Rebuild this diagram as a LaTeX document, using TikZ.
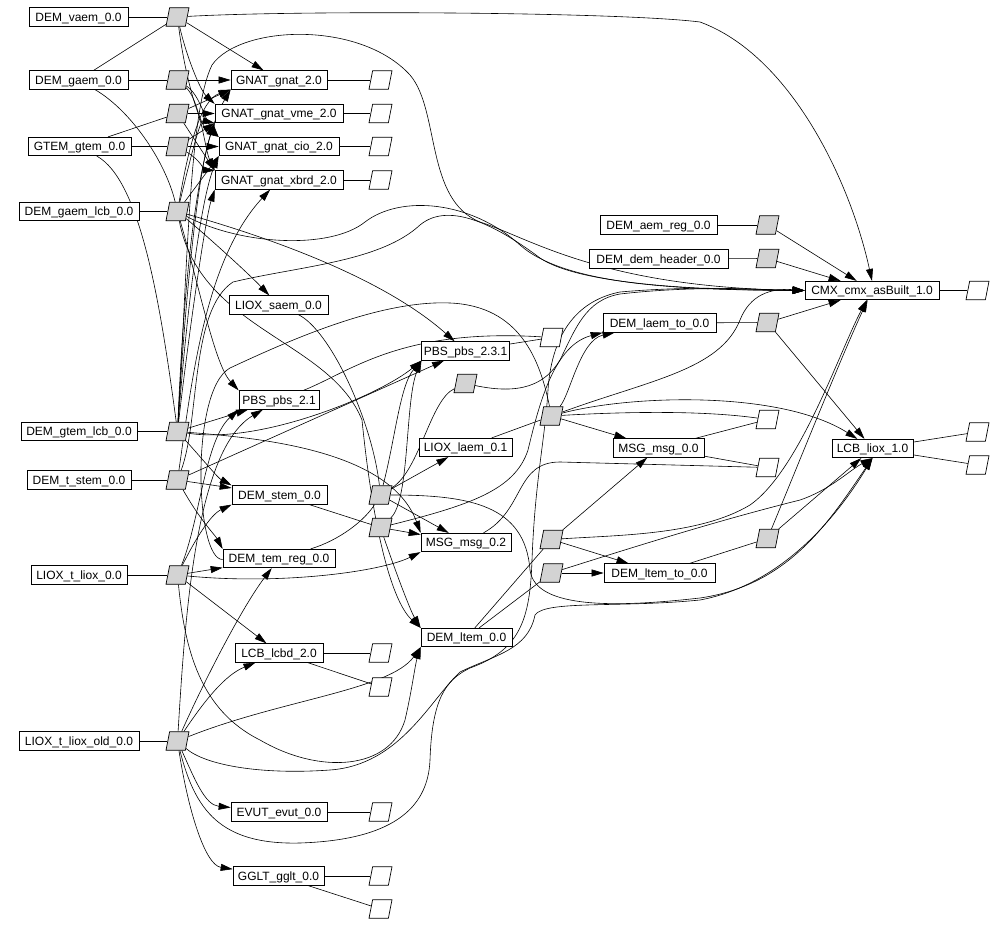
\documentclass[tikz,border=0pt]{standalone}
\usepackage{fontspec}
\setmainfont{Liberation Sans}
\usetikzlibrary{shapes.geometric,arrows.meta}
\definecolor{lg}{RGB}{211,211,211}
\pgfdeclarelayer{bg}
\pgfdeclarelayer{paper}
\pgfsetlayers{paper,bg,main}
\begin{document}
\begin{tikzpicture}[x=1pt,y=-1pt,
  box/.style={draw, fill=white, rectangle, minimum height=18.5pt, inner xsep=2pt, inner ysep=0pt, text height=8.4pt, text depth=0pt, line width=0.7pt, font=\fontsize{12}{13}\selectfont},
  para/.style={draw, trapezium, trapezium left angle=77, trapezium right angle=103, trapezium stretches=true, minimum width=23pt, minimum height=18.5pt, inner sep=1pt, line width=0.7pt},
  gp/.style={para, fill=lg},
  wp/.style={para, fill=white},
  e/.style={line width=0.6pt},
  ar/.style={e, -{Triangle[length=12pt,width=7pt]}}
]
\useasboundingbox (0,0) rectangle (1007,925);
\begin{pgfonlayer}{paper}
\fill[white] (0,0) rectangle (1007,925);
\end{pgfonlayer}

% sources
\node[box, minimum width=99pt]  (sV)  at (78.5,17)    {DEM\_vaem\_0.0};
\node[box, minimum width=99pt]  (sG)  at (78.5,80)    {DEM\_gaem\_0.0};
\node[box, minimum width=103pt] (sT)  at (79.5,146.5) {GTEM\_gtem\_0.0};
\node[box, minimum width=120pt] (sGL) at (79,211.5)   {DEM\_gaem\_lcb\_0.0};
\node[box, minimum width=116pt] (sTL) at (79,431.5)   {DEM\_gtem\_lcb\_0.0};
\node[box, minimum width=104pt] (sTS) at (79,480)     {DEM\_t\_stem\_0.0};
\node[box, minimum width=96pt]  (sL)  at (79,575)     {LIOX\_t\_liox\_0.0};
\node[box, minimum width=120pt] (sLO) at (79,741)     {LIOX\_t\_liox\_old\_0.0};

% gray column A
\node[gp] (a1) at (177.5,17) {};
\node[gp] (a2) at (177.5,80) {};
\node[gp] (a3) at (177.5,113.5) {};
\node[gp] (a4) at (177.5,146.5) {};
\node[gp] (a5) at (177.5,211.5) {};
\node[gp] (a6) at (177.5,431.5) {};
\node[gp] (a7) at (177.5,480) {};
\node[gp] (a8) at (177.5,575) {};
\node[gp] (a9) at (177.5,741) {};

% targets B
\node[box, minimum width=96pt]  (gnat)   at (279,80)    {GNAT\_gnat\_2.0};
\node[box, minimum width=128pt] (vme)    at (279,113.5) {GNAT\_gnat\_vme\_2.0};
\node[box, minimum width=120pt] (cio)    at (279,146.5) {GNAT\_gnat\_cio\_2.0};
\node[box, minimum width=128pt] (xbrd)   at (279,180)   {GNAT\_gnat\_xbrd\_2.0};
\node[box, minimum width=99pt]  (saem)   at (278.5,305) {LIOX\_saem\_0.0};
\node[box, minimum width=80pt]  (pbs21)  at (279,400)   {PBS\_pbs\_2.1};
\node[box, minimum width=95pt]  (stem)   at (279.5,495) {DEM\_stem\_0.0};
\node[box, minimum width=112pt] (temreg) at (279,558.5) {DEM\_tem\_reg\_0.0};
\node[box, minimum width=88pt]  (lcbd)   at (279,653)   {LCB\_lcbd\_2.0};
\node[box, minimum width=96pt]  (evut)   at (279,812)   {EVUT\_evut\_0.0};
\node[box, minimum width=91pt]  (gglt)   at (278.5,876) {GGLT\_gglt\_0.0};

% column C
\node[wp] (wc1) at (380.5,80) {};
\node[wp] (wc2) at (380.5,113.5) {};
\node[wp] (wc3) at (380.5,146.5) {};
\node[wp] (wc4) at (380.5,180) {};
\node[wp] (wc5) at (380.5,653) {};
\node[wp] (wc6) at (380.5,687) {};
\node[wp] (wc7) at (380.5,812) {};
\node[wp] (wc8) at (380.5,876) {};
\node[wp] (wc9) at (380.5,909) {};
\node[gp] (c1) at (380.5,495) {};
\node[gp] (c2) at (380.5,527.5) {};

% column D
\node[box, minimum width=87pt] (pbs231) at (465.5,351)   {PBS\_pbs\_2.3.1};
\node[gp] (d1) at (465.5,383.5) {};
\node[box, minimum width=93pt] (laem)   at (465.5,447.5) {LIOX\_laem\_0.1};
\node[box, minimum width=90pt] (msg02)  at (466,542.5)   {MSG\_msg\_0.2};
\node[box, minimum width=91pt] (ltem)   at (466.5,637.5) {DEM\_ltem\_0.0};
\node[wp] (wd) at (551.5,337.5) {};

% column E
\node[gp] (e1) at (551.5,416) {};
\node[gp] (e2) at (551.5,539.5) {};
\node[gp] (e3) at (551.5,573) {};

% column F
\node[box, minimum width=117pt] (aemreg)    at (658.5,225) {DEM\_aem\_reg\_0.0};
\node[box, minimum width=139pt] (demheader) at (658.5,259) {DEM\_dem\_header\_0.0};
\node[box, minimum width=113pt] (laemto)    at (659.5,323) {DEM\_laem\_to\_0.0};
\node[box, minimum width=91pt]  (msg00)     at (658.5,448) {MSG\_msg\_0.0};
\node[box, minimum width=111pt] (ltemto)    at (659.5,573) {DEM\_ltem\_to\_0.0};

% column G
\node[gp] (g1) at (767.5,225) {};
\node[gp] (g2) at (767.5,258.5) {};
\node[gp] (g3) at (767.5,322.5) {};
\node[gp] (g4) at (767.5,538.5) {};
\node[wp] (wg1) at (767.5,419.5) {};
\node[wp] (wg2) at (767.5,467.5) {};

% column H
\node[box, minimum width=134pt] (cmx)  at (872,290.5)   {CMX\_cmx\_asBuilt\_1.0};
\node[box, minimum width=81pt]  (lcbl) at (872.5,448.5) {LCB\_liox\_1.0};

% column I
\node[wp] (wi1) at (977.5,290.5) {};
\node[wp] (wi2) at (977.5,432) {};
\node[wp] (wi3) at (977.5,465) {};

\begin{pgfonlayer}{bg}
% inputs
\draw[e] (sV) -- (a1);
\draw[e] (sG) -- (a1);
\draw[e] (sG) -- (a2);
\draw[e] (sT) -- (a3);
\draw[e] (sT) -- (a4);
\draw[e] (sGL) -- (a5);
\draw[e] (sG) .. controls (130,110) and (165,160) .. (a5);
\draw[e] (sT) .. controls (140,180) and (160,300) .. (a6);
\draw[e] (sTL) -- (a6);
\draw[e] (sTS) -- (a7);
\draw[e] (sL) -- (a8);
\draw[e] (sLO) -- (a9);
\draw[e] (aemreg) -- (g1);
\draw[e] (demheader) -- (g2);
\draw[e] (laemto) -- (g3);
\draw[e] (ltemto) -- (g4);
\draw[e] (laem) -- (e1);
\draw[e] (ltem) -- (e2);
\draw[e] (ltem) -- (e3);
\draw[e] (stem) -- (c2);
\draw[e] (saem) .. controls (330,330) and (372,420) .. (c1);
\draw[e] (temreg) .. controls (340,540) and (365,520) .. (c1);
\draw[e] (temreg) .. controls (195,560) and (190,390) .. (230,368) .. controls (290,340) and (380,300) .. (450,303) .. controls (520,306) and (540,360) .. (e1);
\draw[e] (c1) .. controls (420,470) and (430,400) .. (d1);

% outputs to white
\draw[e] (gnat) -- (wc1);
\draw[e] (vme) -- (wc2);
\draw[e] (cio) -- (wc3);
\draw[e] (xbrd) -- (wc4);
\draw[e] (lcbd) -- (wc5);
\draw[e] (lcbd) -- (wc6);
\draw[e] (evut) -- (wc7);
\draw[e] (gglt) -- (wc8);
\draw[e] (gglt) -- (wc9);
\draw[e] (pbs231) -- (wd);
\draw[e] (pbs21) .. controls (350,372) and (400,328) .. (wd);
\draw[e] (msg00) -- (wg1);
\draw[e] (msg00) -- (wg2);
\draw[e] (cmx) -- (wi1);
\draw[e] (lcbl) -- (wi2);
\draw[e] (lcbl) -- (wi3);
\draw[e] (msg02) .. controls (525,510) and (515,462) .. (560,462) -- (wg2);
\draw[e] (e1) .. controls (620,412) and (700,410) .. (wg1);

% GNAT cluster
\draw[ar] (a1) -- (gnat);
\draw[ar] (a1) .. controls (186,55) and (200,90) .. (vme.north west);
\draw[ar] (a1) .. controls (184,70) and (198,125) .. (cio.north west);
\draw[ar] (a2) -- (gnat);
\draw[ar] (a2) .. controls (200,95) and (205,120) .. (cio.north west);
\draw[ar] (a2) .. controls (200,100) and (205,150) .. (xbrd.north west);
\draw[ar] (a3) -- (vme);
\draw[ar] (a3) -- (gnat.south west);
\draw[ar] (a3) -- (xbrd.north west);
\draw[ar] (a4) -- (cio);
\draw[ar] (a4) -- (vme.south west);
\draw[ar] (a4) .. controls (200,160) and (205,170) .. (xbrd.north west);
\draw[ar] (a5) -- (cio.south west);
\draw[ar] (a5) .. controls (190,160) and (200,120) .. (vme.south west);
\draw[ar] (a5) .. controls (188,150) and (200,100) .. (gnat.south west);
\draw[ar] (a6) .. controls (183,300) and (195,150) .. (gnat.south west);
\draw[ar] (a6) .. controls (185,300) and (198,170) .. (vme.south west);
\draw[ar] (a6) .. controls (186,320) and (200,200) .. (cio.south west);
\draw[ar] (a6) .. controls (188,340) and (205,220) .. (xbrd.south west);
\draw[ar] (a7) .. controls (192,380) and (205,260) .. (xbrd);

% long edges from column A
\draw[ar] (a1) .. controls (300,10) and (620,12) .. (700,22) .. controls (790,55) and (850,180) .. (cmx.north);
\draw[ar] (a5) .. controls (200,230) and (245,270) .. (saem);
\draw[ar] (a5) .. controls (260,235) and (380,275) .. (pbs231);
\draw[ar] (a5) .. controls (200,290) and (215,365) .. (pbs21.north west);
\draw[ar] (a5) .. controls (240,245) and (330,250) .. (365,222) .. controls (400,195) and (470,200) .. (520,245) .. controls (565,285) and (680,290) .. (cmx.west);
\draw[ar] (a5) .. controls (200,330) and (330,340) .. (362,420) .. controls (372,520) and (390,600) .. (ltem.north west);
\draw[ar] (a6) .. controls (188,250) and (190,110) .. (212,65) .. controls (240,25) and (360,20) .. (410,75) .. controls (440,110) and (425,200) .. (480,222) .. controls (530,238) and (600,287) .. (cmx.west);
\draw[ar] (a6) -- (pbs21);
\draw[ar] (a6) .. controls (205,462) and (218,478) .. (stem.north west);
\draw[ar] (a6) .. controls (260,445) and (380,395) .. (pbs231.south west);
\draw[ar] (a6) .. controls (260,438) and (390,450) .. (msg02.north west);
\draw[ar] (a7) -- (stem);
\draw[ar] (a7) -- (pbs231);
\draw[ar] (a7) .. controls (200,520) and (215,535) .. (temreg.north west);
\draw[ar] (a7) .. controls (200,420) and (190,310) .. (233,282) .. controls (300,266) and (380,262) .. (420,225) .. controls (450,200) and (500,228) .. (540,258) .. controls (580,285) and (700,290) .. (cmx.west);
\draw[ar] (a8) -- (temreg);
\draw[ar] (a8) -- (lcbd);
\draw[ar] (a8) .. controls (280,585) and (380,572) .. (msg02.south west);
\draw[ar] (a8) .. controls (195,540) and (210,515) .. (stem.south west);
\draw[ar] (a8) .. controls (200,520) and (205,440) .. (pbs21.south west);
\draw[ar] (a8) .. controls (185,650) and (200,710) .. (260,740) .. controls (320,775) and (390,770) .. (405,720) .. controls (412,690) and (415,665) .. (ltem.south west);
\draw[ar] (a9) .. controls (200,690) and (240,610) .. (temreg);
\draw[ar] (a9) .. controls (205,700) and (225,675) .. (lcbd);
\draw[ar] (a9) .. controls (195,780) and (205,805) .. (evut);
\draw[ar] (a9) .. controls (188,810) and (205,865) .. (gglt);
\draw[ar] (a9) .. controls (185,620) and (195,450) .. (pbs21);
\draw[ar] (a9) .. controls (280,700) and (390,690) .. (ltem.south west);
\draw[ar] (a9) .. controls (205,765) and (260,775) .. (330,770) .. controls (400,765) and (430,700) .. (460,672) .. controls (495,655) and (528,650) .. (535,615) .. controls (545,600) and (620,608) .. (700,600) .. controls (780,585) and (835,520) .. (lcbl.south);
\draw[ar] (a9) .. controls (195,810) and (220,845) .. (300,843) .. controls (390,840) and (428,810) .. (430,760) .. controls (432,700) and (445,680) .. (470,668) .. controls (520,650) and (530,620) .. (532,560) .. controls (535,480) and (545,440) .. (548,390) .. controls (552,330) and (580,300) .. (620,292) .. controls (700,285) and (760,290) .. (cmx.west);

% column C processes
\draw[ar] (c1) .. controls (395,440) and (400,385) .. (pbs231.south west);
\draw[ar] (c1) -- (laem);
\draw[ar] (c1) -- (msg02);
\draw[ar] (c1) .. controls (470,495) and (525,505) .. (530,570) .. controls (535,610) and (620,607) .. (700,598) .. controls (790,585) and (830,520) .. (lcbl.south);
\draw[ar] (c2) .. controls (410,500) and (405,400) .. (pbs231.south west);
\draw[ar] (c2) -- (msg02);
\draw[ar] (c2) .. controls (395,570) and (410,610) .. (ltem.north west);
\draw[ar] (c2) .. controls (470,505) and (515,490) .. (528,450) .. controls (540,400) and (555,345) .. (laemto.south west);

% d1, e*, g*
\draw[ar] (d1) .. controls (520,395) and (545,385) .. (560,360) .. controls (575,330) and (585,300) .. (620,294) .. controls (700,285) and (760,290) .. (cmx.west);
\draw[ar] (e1) -- (msg00);
\draw[ar] (e1) .. controls (570,395) and (580,340) .. (laemto);
\draw[ar] (e1) .. controls (630,395) and (780,390) .. (lcbl);
\draw[ar] (e1) .. controls (650,380) and (720,370) .. (740,320) .. controls (750,295) and (770,288) .. (cmx.west);
\draw[ar] (e2) -- (ltemto);
\draw[ar] (e2) -- (msg00);
\draw[ar] (e2) .. controls (620,535) and (700,535) .. (750,505) .. controls (800,470) and (840,350) .. (cmx);
\draw[ar] (e3) -- (ltemto);
\draw[ar] (e3) .. controls (640,545) and (720,520) .. (800,500) .. controls (830,490) and (850,470) .. (lcbl.south);
\draw[ar] (g1) -- (cmx);
\draw[ar] (g2) -- (cmx);
\draw[ar] (g3) -- (cmx);
\draw[ar] (g3) -- (lcbl);
\draw[ar] (g4) -- (lcbl);
\draw[ar] (g4) .. controls (800,460) and (840,360) .. (cmx);
\end{pgfonlayer}
\end{tikzpicture}
\end{document}
